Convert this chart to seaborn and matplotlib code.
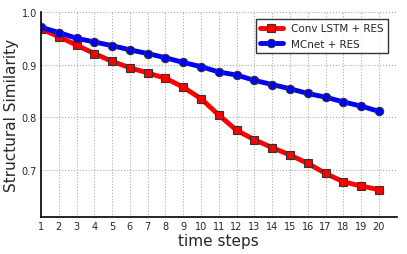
import numpy as np
import pandas as pd
import matplotlib
matplotlib.use("Agg")
import matplotlib.pyplot as plt
import seaborn as sns

# values
steps = list(range(1, 21))
conv_lstm = [0.968, 0.953, 0.937, 0.921, 0.906, 0.894, 0.884, 0.874, 0.857, 0.835,
             0.804, 0.775, 0.757, 0.742, 0.728, 0.712, 0.693, 0.677, 0.669, 0.662]
mcnet = [0.971, 0.961, 0.950, 0.943, 0.936, 0.928, 0.921, 0.913, 0.904, 0.896,
         0.886, 0.880, 0.870, 0.862, 0.854, 0.845, 0.838, 0.829, 0.821, 0.811]
names = ["Conv LSTM + RES", "MCnet + RES"]

df = pd.DataFrame({
    "step": steps * 2,
    "ssim": conv_lstm + mcnet,
    "model": [names[0]] * len(steps) + [names[1]] * len(steps),
})

sns.set_style("white")
plt.rcParams['font.family'] = ['DejaVu Sans']

fig = plt.figure(figsize=(4.07, 2.55), dpi=100)
ax = fig.add_axes([0.1007, 0.145, 0.874, 0.804])

sns.lineplot(data=df, x="step", y="ssim", hue="model", style="model",
             palette={names[0]: "#ff0000", names[1]: "#0000ff"},
             markers={names[0]: "s", names[1]: "o"}, dashes=False,
             linewidth=3.5, markersize=6, markeredgecolor="#333333",
             markeredgewidth=0.8, ax=ax)

ax.set_xlim(1, 21)
ax.set_ylim(0.61, 1.0)
ax.set_xticks(steps)
ax.set_yticks([0.7, 0.8, 0.9, 1.0])
ax.set_yticklabels(["0.7", "0.8", "0.9", "1.0"])
ax.tick_params(labelsize=7, length=2, direction="in", pad=3)
ax.grid(True, linestyle=":", color="#aaaaaa", linewidth=0.8)
for s in ["top", "right"]:
    ax.spines[s].set_visible(False)
for s in ["left", "bottom"]:
    ax.spines[s].set_color("black")
    ax.spines[s].set_linewidth(1.2)

ax.set_xlabel("time steps", fontsize=11, labelpad=1)
ax.set_ylabel("Structural Similarity", fontsize=11, labelpad=2)

leg = ax.legend(loc="upper right", fontsize=7.5, frameon=True, fancybox=False,
                borderpad=0.4, handlelength=2.2, bbox_to_anchor=(0.99, 0.99))
leg.get_frame().set_edgecolor("black")
leg.get_frame().set_linewidth(1.0)

fig.savefig("out.png", dpi=100)
